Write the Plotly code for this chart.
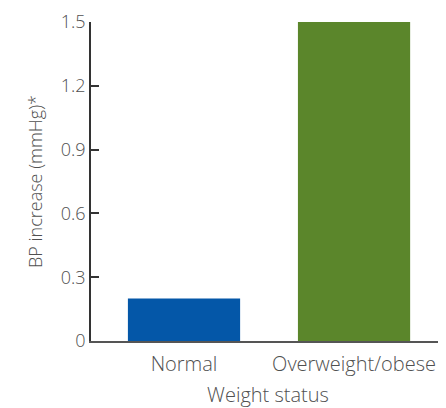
import plotly.graph_objects as go

categories = ["Normal", "Overweight/obese"]
values = [0.2, 1.5]
bar_colors = ["#0457A8", "#5B862B"]
y_ticks = [0, 0.3, 0.6, 0.9, 1.2, 1.5]
y_tick_labels = ["0", "0.3", "0.6", "0.9", "1.2", "1.5"]

font_family = "Open Sans, Noto Sans, sans-serif"
text_color = "#505050"

fig = go.Figure(
    go.Bar(
        x=categories,
        y=values,
        marker=dict(color=bar_colors, line=dict(width=0)),
        width=0.66,
    )
)

fig.update_layout(
    width=438,
    height=400,
    margin=dict(l=83, r=1, t=9, b=67),
    paper_bgcolor="white",
    plot_bgcolor="white",
    showlegend=False,
    font=dict(family=font_family, size=20, color=text_color, weight=300),
)

fig.update_xaxes(
    type="category",
    range=[-0.547, 1.535],
    showline=True,
    linecolor="#555555",
    linewidth=1.5,
    ticks="",
    showgrid=False,
    ticklabelstandoff=4,
    tickfont=dict(size=20, color=text_color, weight=300),
    title=dict(text="Weight status", font=dict(size=20, color=text_color, weight=300), standoff=14),
)

fig.update_yaxes(
    range=[0, 1.5],
    tickmode="array",
    tickvals=y_ticks,
    ticktext=y_tick_labels,
    showline=True,
    linecolor="#333333",
    linewidth=1.5,
    ticks="inside",
    ticklen=8,
    tickcolor="#333333",
    tickwidth=1.5,
    showgrid=False,
    zeroline=False,
    ticklabeloverflow="allow",
    ticksuffix="    ",
    tickfont=dict(size=18, color=text_color, weight=300),
    title=dict(text="BP increase (mmHg)*", font=dict(size=18, color=text_color, weight=300), standoff=14),
)

fig.write_html("out.html")
